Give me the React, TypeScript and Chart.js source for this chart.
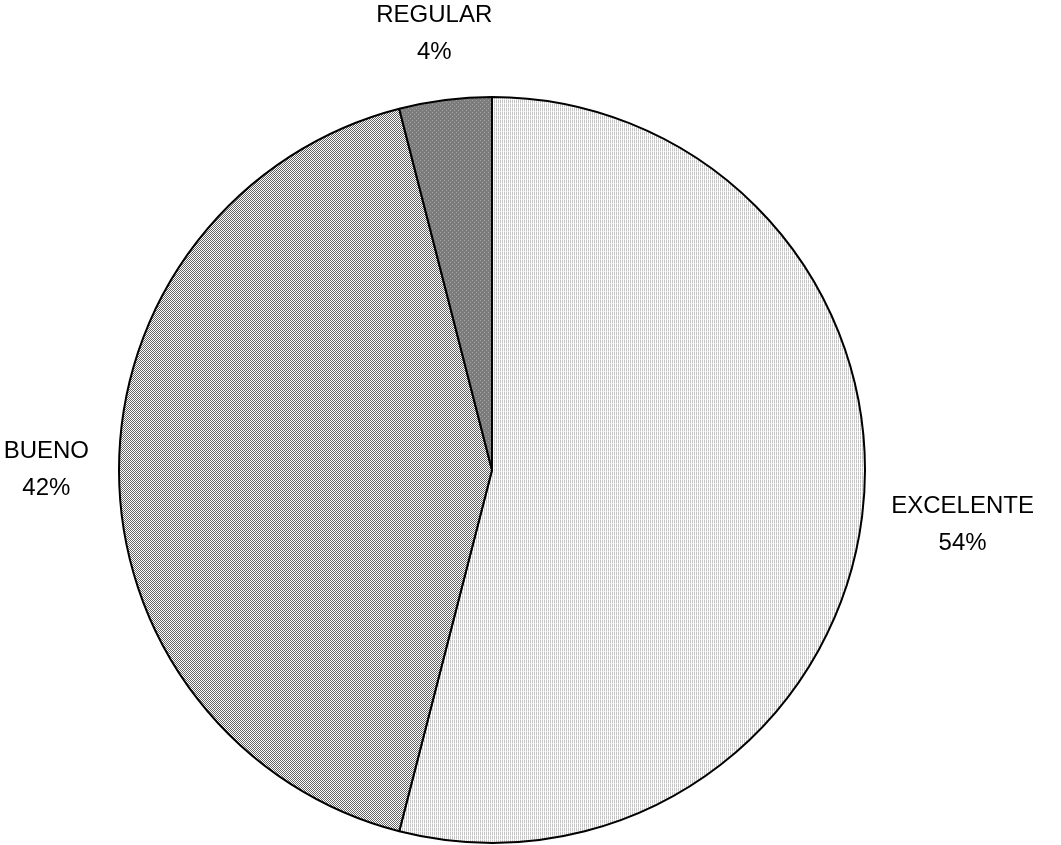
import React, { useEffect, useRef } from "react";
import { Chart, registerables } from "chart.js";

Chart.register(...registerables);

// Survey result shares (percent)
const categories = ["EXCELENTE", "BUENO", "REGULAR"];
const shares = [54, 42, 4];

const FONT = "24px 'Liberation Sans', Arial, sans-serif";
const LINE_HEIGHT = 37;
const LABEL_GAP = 30;

function makePattern(
  w: number,
  h: number,
  paint: (ctx: CanvasRenderingContext2D) => void
): CanvasPattern | string {
  const c = document.createElement("canvas");
  c.width = w;
  c.height = h;
  const ctx = c.getContext("2d");
  if (!ctx) return "#ccc";
  paint(ctx);
  const p = ctx.createPattern(c, "repeat");
  return p || "#ccc";
}

function px(ctx: CanvasRenderingContext2D, x: number, y: number, color: string) {
  ctx.fillStyle = color;
  ctx.fillRect(x, y, 1, 1);
}

const outsideLabels = {
  id: "outsideLabels",
  afterDatasetsDraw(chart: any) {
    const ctx: CanvasRenderingContext2D = chart.ctx;
    const meta = chart.getDatasetMeta(0);
    const values = chart.data.datasets[0].data as number[];
    ctx.save();
    ctx.font = FONT;
    ctx.fillStyle = "#000";
    ctx.textAlign = "center";
    ctx.textBaseline = "middle";
    meta.data.forEach((arc: any, i: number) => {
      const { x, y, startAngle, endAngle, outerRadius } = arc.getProps(
        ["x", "y", "startAngle", "endAngle", "outerRadius"],
        true
      );
      const mid = (startAngle + endAngle) / 2;
      const dx = Math.cos(mid);
      const dy = Math.sin(mid);
      const lines = [String(chart.data.labels[i]), `${values[i]}%`];
      const w = Math.max(...lines.map((l) => ctx.measureText(l).width));
      const h = LINE_HEIGHT * lines.length;
      const r = outerRadius + LABEL_GAP;
      const cx = x + dx * r + (dx * w) / 2;
      const cy = y + dy * r + (dy * h) / 2;
      lines.forEach((l, k) => {
        ctx.fillText(l, cx, cy + (k - (lines.length - 1) / 2) * LINE_HEIGHT);
      });
    });
    ctx.restore();
  },
};

export default function App() {
  const canvasRef = useRef<HTMLCanvasElement | null>(null);

  useEffect(() => {
    const canvas = canvasRef.current;
    if (!canvas) return;

    // light dotted fill
    const lightFill = makePattern(2, 4, (c) => {
      c.fillStyle = "#fff";
      c.fillRect(0, 0, 2, 4);
      px(c, 0, 0, "#c4c4c4");
      px(c, 0, 1, "#c4c4c4");
      px(c, 0, 2, "#c4c4c4");
      px(c, 0, 3, "#e4e4e4");
    });
    // fine checkerboard fill
    const checkFill = makePattern(2, 2, (c) => {
      c.fillStyle = "#fff";
      c.fillRect(0, 0, 2, 2);
      px(c, 0, 0, "#666666");
      px(c, 1, 1, "#666666");
    });
    // dark fill with light dots
    const darkFill = makePattern(4, 4, (c) => {
      c.fillStyle = "#7c7c7c";
      c.fillRect(0, 0, 4, 4);
      px(c, 0, 0, "#a4a4a4");
      px(c, 2, 2, "#a4a4a4");
    });

    const chart = new Chart(canvas, {
      type: "pie",
      data: {
        labels: categories,
        datasets: [
          {
            data: shares,
            backgroundColor: [lightFill, checkFill, darkFill] as any,
            borderColor: "#000",
            borderWidth: 2,
            borderAlign: "center",
          },
        ],
      },
      options: {
        responsive: false,
        animation: false,
        radius: 373,
        layout: { padding: { left: 0, right: 77, top: 95, bottom: 0 } },
        plugins: {
          legend: { display: false },
          tooltip: { enabled: false },
        },
      } as any,
      plugins: [outsideLabels],
    });

    return () => chart.destroy();
  }, []);

  return (
    <div style={{ position: "absolute", left: 0, top: 0, width: 1061, height: 845, background: "#fff" }}>
      <canvas ref={canvasRef} width={1061} height={845} />
    </div>
  );
}
